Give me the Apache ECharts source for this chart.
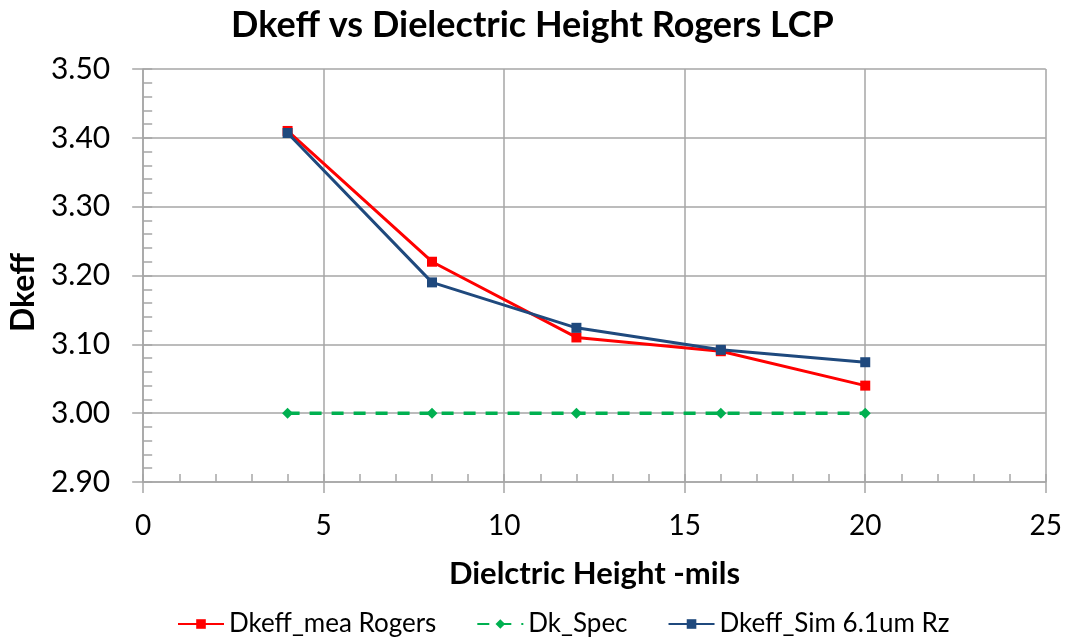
<!DOCTYPE html>
<html><head><meta charset="utf-8">
<script src="https://cdn.jsdelivr.net/npm/echarts@6/dist/echarts.min.js"></script>
<style>html,body{margin:0;padding:0;background:#fff}#c{width:1065px;height:638px}</style>
</head><body><div id="c"></div>
<script>
const xValues = [4, 8, 12, 16, 20];
const meaRogers = [3.41, 3.22, 3.11, 3.09, 3.04];
const dkSpec = [3.00, 3.00, 3.00, 3.00, 3.00];
const simRz = [3.407, 3.19, 3.124, 3.092, 3.074];
const seriesNames = ['Dkeff_mea Rogers', 'Dk_Spec', 'Dkeff_Sim 6.1um Rz'];
const titleText = 'Dkeff vs Dielectric Height Rogers LCP';
const xTitle = 'Dielctric Height -mils';
const yTitle = 'Dkeff';

const FONT = 'Lato';
const pair = (xs, ys) => xs.map((x, i) => [x, ys[i]]);
const gridColor = '#a6a6a6';
const chart = echarts.init(document.getElementById('c'));
chart.setOption({
  animation: false,
  title: { text: titleText, left: 'center', top: 2,
    textStyle: { fontFamily: FONT, fontWeight: 'bold', fontSize: 36, color: '#000' } },
  legend: { top: 606, left: 172, itemGap: 40, itemWidth: 46, itemHeight: 12,
    textStyle: { fontFamily: FONT, fontSize: 26, color: '#000' },
    data: seriesNames },
  grid: { left: 141, right: 19, top: 69, bottom: 156 },
  xAxis: [{
    type: 'value', min: 0, max: 25, interval: 5,
    name: xTitle, nameLocation: 'middle', nameGap: 76,
    nameTextStyle: { fontFamily: FONT, fontWeight: 'bold', fontSize: 31, color: '#000' },
    axisLine: { lineStyle: { color: gridColor, width: 1.5 } },
    axisTick: { show: true, length: 11, lineStyle: { color: gridColor, width: 1.5 } },
    axisLabel: { fontFamily: FONT, fontSize: 28, color: '#000', margin: 30 },
    splitLine: { show: true, lineStyle: { color: gridColor, width: 1.5 } }
  }, {
    type: 'value', min: 0, max: 25, interval: 1, position: 'bottom',
    axisLine: { show: false }, axisLabel: { show: false }, splitLine: { show: false },
    axisTick: { show: true, inside: true, length: 8, lineStyle: { color: gridColor, width: 1.5 } }
  }],
  yAxis: [{
    type: 'value', min: 2.9, max: 3.5, interval: 0.1,
    name: yTitle, nameLocation: 'middle', nameGap: 100, nameRotate: 90,
    nameTextStyle: { fontFamily: FONT, fontWeight: 'bold', fontSize: 32, color: '#000',
      padding: [0, 34, 0, 0] },
    axisLine: { show: true, lineStyle: { color: gridColor, width: 1.5 } },
    axisTick: { show: true, length: 11, lineStyle: { color: gridColor, width: 1.5 } },
    axisLabel: { fontFamily: FONT, fontSize: 30, color: '#000', margin: 33,
      formatter: v => v.toFixed(2) },
    splitLine: { show: true, lineStyle: { color: gridColor, width: 1.5 } }
  }, {
    type: 'value', min: 2.9, max: 3.5, interval: 0.02, position: 'left',
    axisLine: { show: false }, axisLabel: { show: false }, splitLine: { show: false },
    axisTick: { show: true, inside: true, length: 9, lineStyle: { color: gridColor, width: 1.5 } }
  }],
  series: [
    { name: seriesNames[0], type: 'line', data: pair(xValues, meaRogers),
      symbol: 'rect', symbolSize: 10, color: '#ff0000',
      lineStyle: { width: 3, color: '#ff0000' }, itemStyle: { color: '#ff0000' }, z: 3 },
    { name: seriesNames[1], type: 'line', data: pair(xValues, dkSpec),
      symbol: 'diamond', symbolSize: 11, color: '#00b050',
      lineStyle: { width: 3.5, type: [12, 10], color: '#00b050' }, itemStyle: { color: '#00b050' }, z: 2 },
    { name: seriesNames[2], type: 'line', data: pair(xValues, simRz),
      symbol: 'rect', symbolSize: 10, color: '#1f497d',
      lineStyle: { width: 3, color: '#1f497d' }, itemStyle: { color: '#1f497d' }, z: 4 }
  ]
});
</script></body></html>
